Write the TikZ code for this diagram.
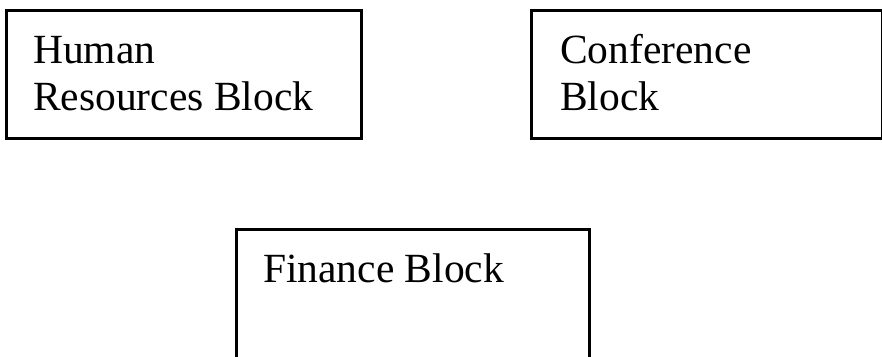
\documentclass[tikz,border=0pt]{standalone}
\usepackage{fontspec}
\setmainfont{Liberation Serif}
\begin{document}
\begin{tikzpicture}[x=1pt, y=-1pt,
    blockbox/.style={draw=black, line width=2.6pt, rectangle, anchor=north west, inner sep=0pt},
    blocktext/.style={anchor=base west, inner sep=0pt, align=left, font=\fontsize{41.5}{47}\selectfont}]
            % Рамка рисунка
            \useasboundingbox (0,0) rectangle (882,356);

            % Блоки
            \node[blockbox, minimum width=355, minimum height=128] (hr) at (5,9) {};
            \node[blockbox, minimum width=351, minimum height=128] (conf) at (530,9) {};
            \node[blockbox, minimum width=353, minimum height=150] (fin) at (235,228) {};

            % Подписи (base -- по последней строке)
            \node[blocktext] (hrtext) at (33,110) {Human\\Resources Block};
            \node[blocktext] (conftext) at (560,110) {Conference\\Block};
            \node[blocktext] (fintext) at (263,282) {Finance Block};
        \end{tikzpicture}
\end{document}
